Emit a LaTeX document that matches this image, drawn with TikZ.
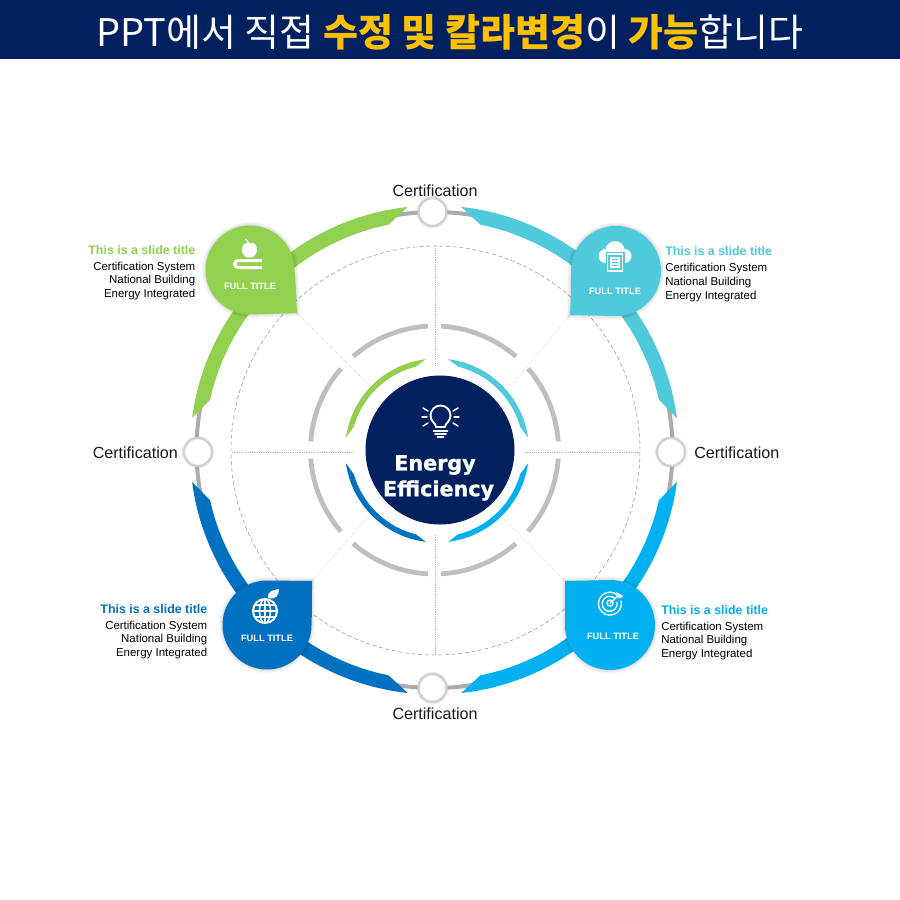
\documentclass[tikz,border=0pt]{standalone}
\usepackage{fontspec}
\setmainfont{Liberation Sans}
\newfontfamily\krfont{Noto Sans CJK KR}
\newfontfamily\widefont[FakeBold=1.2]{DejaVu Sans Bold}
\definecolor{navy}{HTML}{002060}
\definecolor{amber}{HTML}{FFC000}
\definecolor{cgreen}{HTML}{92D050}
\definecolor{ccyan}{HTML}{4FC9DC}
\definecolor{cblue}{HTML}{0070C0}
\definecolor{csky}{HTML}{00B0F0}
\definecolor{ringgray}{HTML}{ABABAB}
\definecolor{arcgray}{HTML}{BFBFBF}
\newcommand{\crescent}[8]{([shift={(#1,#2)}]#5:#3) arc[start angle=#5,end angle=#6,radius=#3] -- ([shift={(#1,#2)}]#8:#4) arc[start angle=#8,end angle=#7,radius=#4] -- cycle}
\newcommand{\softshadow}[1]{\foreach \w in {7,5,3,1.5}{\draw[black,opacity=.03,line width=\w*0.75pt,line join=round] #1;}}
\tikzset{
  ringdot/.style={circle,draw=ringgray!55,line width=1.8pt,fill=white,minimum size=21pt,inner sep=0pt},
  hubnode/.style={circle,fill=navy,minimum size=111.75pt,inner sep=0pt},
  spoke/.style={densely dotted,draw=black!30,line width=.35pt},
  graybar/.style={draw=arcgray,line width=3.6pt},
  lab/.style={inner sep=0pt,font=\fontsize{12.07}{14}\selectfont,text=black!90},
  ttl/.style={inner sep=0pt,font=\bfseries\fontsize{9.3}{11}\selectfont},
  bodyR/.style={inner sep=0pt,align=right,anchor=north east,font=\fontsize{8.6}{10.3}\selectfont},
  bodyL/.style={inner sep=0pt,align=left,anchor=north west,font=\fontsize{8.6}{10.3}\selectfont},
  full/.style={inner sep=0pt,text=white,font=\bfseries\fontsize{6.95}{8}\selectfont},
  iconline/.style={draw=white,line width=1.1pt,line cap=round}
}
\begin{document}
\begin{tikzpicture}[x=0.75pt,y=0.75pt]
\useasboundingbox (0,0) rectangle (900,-900);
\fill[white] (0,0) rectangle (900,-900);
\node[fill=navy,minimum width=675pt,minimum height=44.25pt,inner sep=0pt,anchor=north west] (band) at (0,0) {};
\node[inner sep=0pt,text=white,font=\krfont\fontsize{28.5}{31}\selectfont] (head) at (450,-32.5) {PPT에서 직접 \textcolor{amber}{\bfseries 수정 및 칼라변경}이 \textcolor{amber}{\bfseries 가능}합니다};

% construction circles and spokes
\draw[densely dashed,draw=black!45,line width=.35pt] (435.5,-450.5) circle[radius=204.5];
\coordinate (sT0) at (435,-246); \coordinate (sT1) at (435,-366);
\coordinate (sB0) at (435,-535); \coordinate (sB1) at (435,-655);
\coordinate (sL0) at (232,-452); \coordinate (sL1) at (353,-452);
\coordinate (sR0) at (525,-452); \coordinate (sR1) at (640,-452);
\coordinate (dG0) at (297,-313); \coordinate (dG1) at (370,-386);
\coordinate (dC0) at (570,-315); \coordinate (dC1) at (509,-388);
\coordinate (dB0) at (312,-581); \coordinate (dB1) at (370,-515);
\coordinate (dS0) at (565,-581); \coordinate (dS1) at (502,-517);
\foreach \a/\b in {sT0/sT1,sB0/sB1,sL0/sL1,sR0/sR1,dG0/dG1,dC0/dC1,dB0/dB1,dS0/dS1}{\draw[spoke] (\a) -- (\b);}

% gray inner ring segments
\foreach \p/\q in {93/131,139/176,87/49,41/4,184/221,229/267,356/319,311/273}{
  \draw[graybar] ([shift={(434.5,-450)}]\p:124) arc[start angle=\p,end angle=\q,radius=124];}

% gray outer ring
\draw[draw=ringgray,line width=3pt] (434.5,-450) circle[radius=238];

% outer coloured arcs
\fill[cgreen] \crescent{434.5}{-450}{244.5}{230}{172.5}{96.3}{167.4}{101.5};
\fill[ccyan] \crescent{434.5}{-450}{244.5}{230}{7.5}{83.7}{12.6}{78.5};
\fill[cblue] \crescent{434.5}{-450}{244.5}{230}{187.5}{263.7}{192.6}{258.5};
\fill[csky] \crescent{434.5}{-450}{244.5}{230}{-7.5}{-83.7}{-12.6}{-78.5};

% inner coloured arcs
\fill[cgreen] \crescent{437}{-450.5}{92}{86.5}{172}{97}{164}{104};
\fill[ccyan] \crescent{437}{-450.5}{92}{86.5}{8}{83}{16}{76};
\fill[cblue] \crescent{437}{-450.5}{92}{86.5}{188}{263}{196}{256};
\fill[csky] \crescent{437}{-450.5}{92}{86.5}{-8}{-83}{-16}{-76};

% ring dots
\foreach \n/\x/\y in {dotT/432.5/-212,dotB/432.5/-688,dotL/198/-452,dotR/671/-452}{
  \foreach \w in {31,33}{\fill[black,opacity=.04] (\x,\y) circle[radius=\w/2];}
  \node[ringdot] (\n) at (\x,\y) {};}

% teardrops
\def\tearG{(294.5,-270) arc[start angle=0,end angle=270,radius=44.5] -- (297,-313) .. controls (296,-298) and (296,-284) .. cycle}
\def\tearC{(571,-271) arc[start angle=180,end angle=-90,radius=45] -- (570,-315) .. controls (571,-298) and (571,-284) .. cycle}
\def\tearB{(311.5,-625) arc[start angle=0,end angle=-270,radius=44.5] -- (312,-581) .. controls (312,-598) and (312,-612) .. cycle}
\def\tearS{(565,-625) arc[start angle=180,end angle=450,radius=45] -- (565,-581) .. controls (565,-598) and (565,-612) .. cycle}
\softshadow{\tearG}\fill[cgreen] \tearG;
\softshadow{\tearC}\fill[ccyan] \tearC;
\softshadow{\tearB}\fill[cblue] \tearB;
\softshadow{\tearS}\fill[csky] \tearS;

% hub
\node[hubnode,align=center,text=white] (hub) at (440,-450) {};
\node[inner sep=0pt,text=white,font=\widefont\fontsize{15.5}{18}\selectfont] (hubA) at (435,-465) {Energy};
\node[inner sep=0pt,text=white,font=\widefont\fontsize{15.5}{18}\selectfont] (hubB) at (438.5,-490.5) {Efficiency};

% bulb icon
\draw[draw=white,line width=1.4pt,line join=round] (436,-427) .. controls (436,-423) and (430.5,-422) .. (430.5,-415.5) arc[start angle=180,end angle=0,radius=10] .. controls (450.5,-422) and (445,-423) .. (445,-427) -- cycle;
\foreach \a/\b/\c/\d in {423/-408/428/-411,422/-417/427/-417,423/-426/428/-423,458/-408/453/-411,459/-417/454/-417,458/-426/453/-423}{\draw[iconline] (\a,\b) -- (\c,\d);}
\draw[iconline,line width=1.5pt] (433.5,-430.5) -- (447.5,-430.5);
\draw[iconline,line width=1.5pt] (435,-434) -- (446,-434);
\draw[iconline,line width=1.5pt] (437.5,-437) -- (443.5,-437);

% apple + book icon
\fill[white] (249.5,-243.5) .. controls (252,-242) and (257,-243) .. (257,-249.5) .. controls (257,-254) and (254,-257.5) .. (251,-257.5) .. controls (250,-257.5) and (250,-257) .. (249.5,-257) .. controls (249,-257) and (249,-257.5) .. (248,-257.5) .. controls (245,-257.5) and (242,-254) .. (242,-249.5) .. controls (242,-243) and (247,-242) .. (249.5,-243.5) -- cycle;
\draw[iconline,line width=1pt] (246,-239.5) -- (248.5,-243);
\fill[white] (262,-259) -- (238,-259) arc[start angle=90,end angle=270,radius=5] -- (262,-269) -- (262,-266) -- (238.5,-266) arc[start angle=270,end angle=90,radius=2] -- (262,-262) -- cycle;

% cloud + document icon
\fill[white] (605.5,-263) arc[start angle=270,end angle=90,radius=7] .. controls (606,-245) and (610,-241) .. (615,-241) .. controls (620,-241) and (624,-245) .. (624.5,-249) arc[start angle=90,end angle=-90,radius=7] -- cycle;
\fill[ccyan] (605.5,-252) rectangle (624.5,-272.5);
\draw[draw=white,line width=1.1pt] (607.5,-254) rectangle (622.5,-271);
\draw[draw=white,line width=.9pt] (611,-258) rectangle (619,-267);
\draw[draw=white,line width=.9pt] (611,-261) -- (619,-261) (611,-264) -- (619,-264);

% globe + leaf icon
\draw[draw=white,line width=1.5pt] (265,-611) circle[radius=12];
\draw[draw=white,line width=1.15pt] (265,-611) ellipse[x radius=5.5,y radius=12] (265,-599) -- (265,-623) (253,-611) -- (277,-611) (255,-605) -- (275,-605) (255,-617) -- (275,-617);
\fill[white] (268,-598) .. controls (267,-592) and (272,-590) .. (279,-589) .. controls (279,-595) and (276,-600) .. cycle;

% target icon
\draw[draw=white,line width=1pt] (618,-595.5) arc[start angle=45,end angle=375,radius=11.5];
\draw[draw=white,line width=1pt] (615,-598.5) arc[start angle=45,end angle=375,radius=7.5];
\draw[draw=white,line width=1pt] (610,-603) circle[radius=3];
\draw[iconline] (610,-603) -- (619,-595);
\fill[white] (616,-592) -- (622,-595) -- (623,-597) -- (619,-598) -- (618,-597) -- cycle;

% teardrop captions
\node[full] (ftG) at (250,-286) {FULL TITLE};
\node[full] (ftC) at (615,-291) {FULL TITLE};
\node[full] (ftB) at (267,-638) {FULL TITLE};
\node[full] (ftS) at (613,-636) {FULL TITLE};

% certification labels
\node[lab] (lbT) at (435,-190.5) {Certification};
\node[lab] (lbB) at (435,-713.5) {Certification};
\node[lab,anchor=east] (lbL) at (178,-452.5) {Certification};
\node[lab,anchor=west] (lbR) at (694,-453) {Certification};

% side text
\node[ttl,text=cgreen,anchor=east] (tG) at (195.5,-250.5) {This is a slide title};
\node[bodyR] (bG) at (195.5,-261.5) {Certification System\\National Building\\Energy Integrated};
\node[ttl,text=ccyan,anchor=west] (tC) at (665,-251.5) {This is a slide title};
\node[bodyL] (bC) at (665,-263) {Certification System\\National Building\\Energy Integrated};
\node[ttl,text=cblue,anchor=east] (tB) at (207.5,-609) {This is a slide title};
\node[bodyR] (bB) at (207.5,-620.5) {Certification System\\National Building\\Energy Integrated};
\node[ttl,text=csky,anchor=west] (tS) at (661,-610) {This is a slide title};
\node[bodyL] (bS) at (661,-621.5) {Certification System\\National Building\\Energy Integrated};
\end{tikzpicture}
\end{document}
